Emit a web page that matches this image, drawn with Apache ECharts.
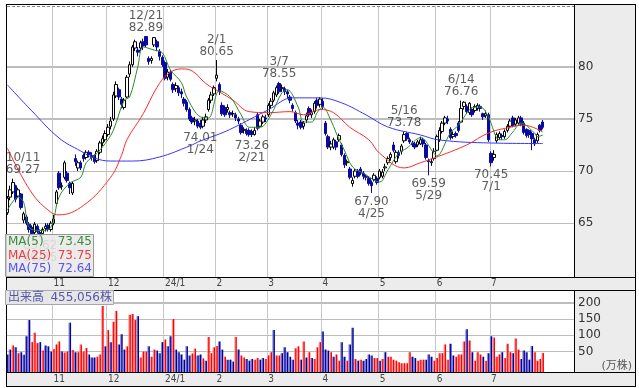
<!DOCTYPE html>
<html><head><meta charset="utf-8">
<script src="https://cdn.jsdelivr.net/npm/echarts@6/dist/echarts.min.js"></script>
<style>
html,body{margin:0;padding:0;background:#fff;}
#wrap{position:relative;width:639px;height:388px;}
.bg{position:absolute;}
#frame{left:6px;top:4px;width:630px;height:383px;background:#ececec;}
#p1{left:6px;top:4px;width:568px;height:273px;background:#fff;}
#p2{left:6px;top:290px;width:568px;height:82px;background:#fff;}
#c{position:absolute;left:0;top:0;width:639px;height:388px;}
</style>
</head><body><div id="wrap"><div class="bg" id="frame"></div><div class="bg" id="p1"></div><div class="bg" id="p2"></div><div id="c"></div></div>
<script>
// ---- trading days (year, month, days) ; last rows are empty future slots
const monthDays = [
  [2023,10,[6,10,11,12,13,16,17,18,19,20,23,24,25,26,27,30,31]],
  [2023,11,[1,2,6,7,8,9,10,13,14,15,16,17,20,21,22,24,27,28,29,30]],
  [2023,12,[1,4,5,6,7,8,11,12,13,14,15,18,19,20,21,22,25,26,27,28,29]],
  [2024,1,[4,5,9,10,11,12,15,16,17,18,19,22,23,24,25,26,29,30,31]],
  [2024,2,[1,2,5,6,7,8,9,13,14,15,16,19,20,21,22,26,27,28,29]],
  [2024,3,[1,4,5,6,7,8,11,12,13,14,15,18,19,21,22,25,26,27,28,29]],
  [2024,4,[1,2,3,4,5,8,9,10,11,12,15,16,17,18,19,22,23,24,25,26,30]],
  [2024,5,[1,2,7,8,9,10,13,14,15,16,17,20,21,22,23,24,27,28,29,30,31]],
  [2024,6,[3,4,5,6,7,10,11,12,13,14,17,18,19,20,21,24,25,26,27,28]],
  [2024,7,[1,2,3,4,5,8,9,10,11,12,16,17,18,19,22,23,24,25,26,29,30,31]],
  [2024,8,[1,2,5,6,7,8,9,13,14]]
];
const monthLabels = ['11','12','24/1','2','3','4','5','6','7'];
const priceTicks = [65,70,75,80];
const volumeTicks = [50,100,150,200];

const opens = [
66.0,67.5,68.0,68.6,67.6,67.8,65.3,65.6,64.9,64.6,
64.1,64.7,64.1,64.0,64.5,64.8,64.4,65.0,66.9,69.8,
68.5,69.4,69.8,68.8,67.9,71.2,70.3,70.8,71.5,71.3,
71.8,71.5,71.5,71.0,71.8,72.7,73.0,73.5,74.3,75.0,
77.2,77.8,76.9,76.1,77.1,79.3,80.2,81.8,81.6,81.8,
82.4,82.9,80.8,80.6,82.1,82.4,81.5,80.9,80.4,79.0,
79.5,78.3,77.9,78.0,77.6,76.9,76.6,75.9,75.1,74.8,
74.8,74.6,74.3,74.9,75.9,76.8,77.4,78.9,78.3,76.3,
76.1,75.9,75.6,75.5,75.4,75.0,74.4,73.9,73.9,73.9,
73.8,73.5,75.4,74.3,74.7,75.1,75.4,76.3,76.8,77.3,
78.4,77.9,77.9,77.6,77.1,76.3,75.6,74.6,74.7,74.3,
74.9,76.0,75.4,75.7,76.8,76.4,76.7,74.6,73.3,72.3,
72.3,72.8,73.0,72.5,71.5,70.8,70.2,68.8,69.5,70.0,
70.2,69.8,69.5,69.3,68.9,69.2,69.3,69.4,69.5,70.3,
70.8,71.3,72.5,70.9,71.8,71.9,72.9,73.6,73.0,72.7,
72.6,72.5,72.6,73.0,72.5,71.0,70.8,71.2,72.0,73.0,
73.8,74.6,75.0,74.0,73.3,73.6,74.6,74.7,76.2,76.2,
75.6,75.9,75.8,76.0,76.2,75.5,75.3,75.4,71.7,71.3,
72.9,73.2,73.4,73.3,73.9,74.3,75.1,74.5,74.6,75.1,
74.6,74.0,73.9,73.6,73.0,72.9,74.4,74.7];
const closes = [
67.4,68.2,68.9,67.3,68.2,66.5,65.9,65.0,64.4,64.0,
64.9,64.2,63.9,64.4,64.7,64.4,65.0,65.4,68.0,68.4,
68.6,70.8,69.1,68.4,68.8,70.9,70.8,70.3,71.2,71.8,
71.6,71.3,70.9,71.9,72.7,73.1,73.6,74.2,74.8,77.3,
78.3,77.1,76.4,76.8,79.0,80.2,81.9,82.4,81.4,82.3,
82.0,82.1,80.5,80.8,82.8,81.9,81.0,80.2,78.9,79.5,
78.8,77.8,78.2,77.5,77.4,76.5,75.9,75.0,74.7,74.9,
74.3,74.2,74.9,75.2,76.8,77.3,78.0,79.2,77.6,75.5,
75.4,76.1,75.4,75.5,75.1,74.8,73.7,74.0,73.6,73.5,
73.5,73.9,74.1,74.8,75.2,75.0,76.3,76.7,77.5,78.0,
77.6,78.0,77.6,77.4,76.8,76.0,74.8,74.4,74.2,74.6,
75.3,75.4,75.6,76.5,76.3,76.9,76.2,73.6,72.3,72.6,
73.0,72.3,73.4,71.6,70.6,70.9,69.4,69.1,70.0,69.5,
69.8,69.5,69.4,68.8,68.6,69.6,68.9,70.0,69.9,70.4,
71.2,71.6,72.0,71.8,71.5,72.4,73.5,73.1,72.8,72.5,
72.3,72.8,73.0,72.6,71.3,70.9,70.9,71.9,73.3,73.9,
74.6,75.1,74.8,73.2,73.5,73.4,73.9,76.0,76.6,75.7,
76.5,75.4,76.2,76.3,76.0,75.2,75.5,73.0,70.8,71.6,
73.5,73.6,73.3,73.8,74.3,74.8,74.4,74.9,75.1,74.5,
73.7,73.4,73.5,73.1,72.6,73.5,73.9,74.2];
const lows = [
65.8,67.2,67.8,67.0,67.4,66.3,65.0,64.8,64.1,63.8,
63.9,64.0,63.62,63.8,64.2,64.2,64.2,64.8,66.8,68.2,
68.2,69.2,68.9,67.8,67.7,70.5,70.0,70.1,70.9,71.1,
71.3,71.0,70.7,70.8,71.6,72.4,72.8,73.3,74.0,74.8,
77.0,76.8,76.0,75.9,77.0,79.0,80.0,81.5,81.0,81.5,
81.6,81.9,80.2,80.3,81.9,81.5,80.6,80.0,78.7,78.7,
78.6,77.5,77.6,77.2,77.0,76.2,75.7,74.8,74.5,74.4,
74.1,74.01,74.1,74.6,75.7,76.5,77.2,78.6,77.3,75.3,
75.2,75.6,75.1,75.2,74.8,74.5,73.5,73.6,73.4,73.3,
73.26,73.4,73.9,74.1,74.5,74.7,75.2,76.0,76.6,77.1,
77.4,77.6,77.3,77.0,76.5,75.7,74.6,74.0,74.0,74.0,
74.6,75.2,75.1,75.5,76.0,76.1,75.9,73.4,72.1,72.0,
72.1,72.0,72.8,71.4,70.3,70.5,69.2,68.5,69.3,69.3,
69.6,69.2,69.1,68.6,67.90,69.0,68.7,69.2,69.3,70.0,
70.6,71.0,71.8,70.7,71.2,71.6,72.7,72.9,72.6,72.3,
72.1,72.3,72.5,72.3,71.1,69.59,70.5,71.0,71.9,72.8,
73.6,74.4,74.5,73.0,73.1,73.2,73.7,74.6,75.9,75.5,
75.4,75.2,75.6,75.8,75.7,74.9,75.1,72.8,70.45,71.0,
72.7,73.0,73.0,73.1,73.7,74.1,74.2,74.3,74.4,74.3,
73.5,73.2,73.2,72.0,72.4,72.7,73.7,74.0];
const highs = [
67.6,68.6,69.27,68.7,68.4,67.9,66.1,65.8,65.1,64.8,
65.1,64.9,64.4,64.6,65.0,65.0,65.2,65.8,68.2,70.0,
68.9,71.0,70.0,69.0,69.0,71.6,71.0,71.0,71.7,72.0,
72.0,71.8,71.6,72.1,72.9,73.4,73.9,74.5,75.2,77.6,
78.6,78.0,77.1,77.0,79.2,80.5,82.1,82.6,81.9,82.5,
82.7,82.89,81.0,81.0,82.85,82.6,81.7,81.1,80.6,79.8,
79.7,78.5,78.5,78.2,77.9,77.1,76.8,76.1,75.3,75.2,
75.0,74.9,75.2,75.5,77.0,77.6,78.2,80.65,78.5,76.6,
76.3,76.4,75.8,75.8,75.6,75.2,74.6,74.2,74.1,74.1,
74.0,74.2,75.6,75.0,75.4,75.4,76.5,77.0,77.7,78.2,
78.55,78.3,78.1,77.8,77.3,76.5,75.8,74.9,74.9,74.8,
75.6,76.2,75.9,76.7,77.0,77.1,77.0,74.8,73.5,72.9,
73.2,73.0,73.6,72.7,71.7,71.1,70.4,69.4,70.2,70.2,
70.4,70.0,69.7,69.5,69.1,69.8,69.5,70.2,70.2,70.7,
71.4,71.8,72.8,72.0,72.0,72.6,73.78,73.75,73.2,72.9,
72.8,73.0,73.3,73.2,72.7,71.2,71.2,72.2,73.5,74.2,
74.8,75.3,75.3,74.2,73.8,73.8,74.8,76.76,76.7,76.4,
76.6,76.1,76.4,76.5,76.4,75.6,75.8,75.6,71.9,72.0,
73.7,73.8,73.6,74.0,74.5,75.0,75.3,75.1,75.3,75.3,
74.8,74.1,74.0,73.8,73.2,73.7,74.5,74.9];

// volume, 万株
const volumes = [
41,56,69,63,45,48,40,97,147,79,
108,76,79,53,69,66,50,58,72,81,
50,47,50,139,55,48,48,72,50,61,
41,32,32,34,41,190,66,116,79,142,
175,72,103,56,66,163,166,147,159,32,
50,50,66,34,56,53,45,79,87,66,
97,150,56,48,41,25,66,38,44,59,
38,41,29,22,95,45,63,67,81,56,
34,25,25,19,95,56,38,32,27,22,
27,25,30,25,30,27,38,48,116,38,
38,45,63,48,34,25,60,66,25,81,
32,48,30,27,63,79,112,56,53,48,
34,41,22,79,34,22,72,123,27,22,
25,22,27,41,38,30,30,22,27,48,
34,34,25,22,17,14,14,14,48,34,
30,22,25,25,25,41,34,22,30,45,
45,72,25,74,38,34,41,41,81,119,
84,48,22,48,41,34,22,45,97,93,
34,41,48,30,74,48,45,90,56,27,
53,48,25,67,48,22,27,45.5];
const volumeDir = ("ddududdddu uududdduuu duududuuuu ddduuududu uddduuuudu " +
  "uuduudddud dudddddduu dduduuuudd uddduduudd duudduuudu " +
  "uddddduudu duduuudddu duudduddud udddduudud uuuuuuuuud " +
  "duuuddduuu uuudduuuud uduuududdu uuduuuduud dddduuuu").replace(/ /g,'');
const lastVolumeShares = 455056;

// moving averages: [day index, value]
const ma5 = [[0,66.25],[4,67.5],[6,67.0],[8,64.6],[12,64.3],[16,64.6],[19,67.5],[23,68.85],[27,69.4],[29,70.8],
  [33,71.7],[37,73.0],[39,73.9],[43,76.8],[45,77.1],[48,80.0],[50,81.9],[54,81.6],[57,81.35],[60,79.7],
  [64,78.5],[66,77.1],[71,75.2],[74,75.1],[78,77.7],[82,77.1],[86,75.4],[89,74.2],[93,74.2],[97,75.4],
  [101,77.5],[103,77.8],[107,76.15],[109,74.7],[112,74.7],[114,75.6],[116,76.15],[119,74.9],[121,73.65],
  [124,72.0],[127,70.4],[131,69.8],[137,68.95],[140,70.1],[144,71.7],[147,72.2],[152,73.2],[157,71.7],
  [158,71.45],[163,73.65],[166,74.4],[171,76.05],[174,76.15],[177,75.2],[181,73.0],[183,73.0],[186,73.75],
  [189,74.6],[194,73.65],[195,73.3],[197,73.45]];
const ma25 = [[0,72.2],[9,67.9],[16,66.05],[19,65.8],[28,66.7],[38,69.4],[42,71.5],[44,73.0],[50,75.5],
  [55,78.0],[59,79.3],[64,79.8],[68,79.6],[73,78.4],[78,77.6],[83,76.8],[89,75.7],[96,75.6],[104,75.7],
  [109,75.4],[115,75.9],[120,75.6],[126,74.2],[133,73.0],[137,71.7],[146,70.3],[152,70.8],[157,71.25],
  [169,72.5],[177,73.65],[185,74.2],[190,74.4],[197,73.75]];
const ma75 = [[0,78.27],[9,75.77],[19,73.17],[27,71.92],[32,71.25],[38,70.96],[46,70.96],[56,71.35],
  [67,72.4],[71,72.88],[78,73.56],[83,74.13],[96,75.87],[105,77.02],[115,77.02],[123,76.54],[132,75.38],
  [140,74.23],[152,73.46],[159,72.98],[178,72.69],[197,72.64]];
const maLatest = [73.45, 73.75, 72.64];

const highMarks = [['2023/10/11',69.27],['2023/12/21',82.89],['2024/2/1',80.65],['2024/3/7',78.55],['2024/5/16',73.78],['2024/6/14',76.76]];
const lowMarks = [['2023/10/25',63.62],['2024/1/24',74.01],['2024/2/21',73.26],['2024/4/25',67.90],['2024/5/29',69.59],['2024/7/1',70.45]];

// ---- build
const categories = [];
monthDays.forEach(([y,m,ds]) => ds.forEach(d => categories.push(y+'/'+m+'/'+d)));
const nData = closes.length;
const monthOf = c => c.split('/')[1];
const monthStarts = [];
categories.forEach((c,i)=>{ if(i>0 && i<nData && monthOf(c)!==monthOf(categories[i-1])) monthStarts.push(i); });
const isStart = i => monthStarts.indexOf(i) >= 0;
const mdText = c => { const p=c.split('/'); return p[1]+'/'+p[2]; };

const candleData = opens.map((o,i)=>[o, closes[i], lows[i], highs[i]]);
const volData = volumes.map((v,i)=>[i, v, volumeDir[i]==='u'?1:0]);

const LABEL_FONT = "'DejaVu Sans', 'Noto Sans CJK JP', sans-serif";
const highData = highMarks.map(([d,v])=>{
  const idx = categories.indexOf(d);
  const item = {value:[idx,v], name: mdText(d)+'\n'+v.toFixed(2)};
  if (idx < 6) item.label = {align:'left', offset:[-7,0]};
  return item;
});
const lowData = lowMarks.map(([d,v])=>{
  const idx = categories.indexOf(d);
  return {value:[idx,v], name: v.toFixed(2)+'\n'+mdText(d)};
});

const GRID_COLOR = '#bdbdbd';
const xLabelFont = "'Liberation Sans Narrow', 'DejaVu Sans Condensed', 'Liberation Sans', sans-serif";
function xAxisCfg(gi, margin){
  return {
    type:'category', gridIndex:gi, data:categories, boundaryGap:true,
    axisLine:{show:false}, axisTick:{show:false},
    axisLabel:{interval:(i)=>isStart(i), formatter:(v,i)=>monthLabels[monthStarts.indexOf(i)]||'',
      align:'left', margin:margin, fontSize:10, color:'#444', fontFamily:xLabelFont},
    splitLine:{show:true, interval:(i)=>isStart(i), lineStyle:{color:'#c8c8c8', width:1}}
  };
}
function yAxisCfg(gi, min, max, ticks){
  return {
    type:'value', gridIndex:gi, position:'right', min:min, max:max,
    axisLine:{show:false}, axisTick:{show:false, customValues:ticks},
    axisLabel:{customValues:ticks, margin:4, fontSize:12, color:'#333', fontFamily:LABEL_FONT},
    splitLine:{show:true, lineStyle:{color:GRID_COLOR, width:1}}
  };
}

const G = [];
const rect = (x,y,w,h,fill,z)=>G.push({type:'rect', silent:true, z:z, shape:{x:x,y:y,width:w,height:h}, style:{fill:fill}});
G.push({type:'line', silent:true, z:5, shape:{x1:7,y1:6.5,x2:574,y2:6.5}, style:{stroke:'#888', lineWidth:1, lineDash:[3,2]}});
[[4],[277],[290],[372],[386]].forEach(([y])=>rect(6,y,630,1,'#000',60));
rect(6,4,1,383,'#000',60);
rect(635,4,1,383,'#000',60);
rect(574,4,1,273,'#000',60);
rect(574,290,1,82,'#000',60);
// MA legend box
G.push({type:'rect', silent:true, z:100, shape:{x:5.5,y:234.5,width:88,height:42}, style:{fill:'rgba(232,232,232,0.88)', stroke:'#9a9a9a', lineWidth:1}});
const maNames = ['MA(5)','MA(25)','MA(75)'];
const maText = ['#3c8c3c','#ee3b3b','#5555ee'];
const maRowY = [241.5,255.5,269];
maNames.forEach((n,k)=>{
  G.push({type:'text', silent:true, z:101, x:8, y:maRowY[k], style:{text:n, fill:maText[k], font:"12px "+LABEL_FONT, textAlign:'left', textVerticalAlign:'middle'}});
  G.push({type:'text', silent:true, z:101, x:92, y:maRowY[k], style:{text:maLatest[k].toFixed(2), fill:maText[k], font:"12px "+LABEL_FONT, textAlign:'right', textVerticalAlign:'middle'}});
});
// volume title box
G.push({type:'rect', silent:true, z:100, shape:{x:5.5,y:290.5,width:108,height:14}, style:{fill:'#e6e6e6', stroke:'#a8a8a8', lineWidth:1}});
G.push({type:'text', silent:true, z:101, x:8, y:298, style:{text:'出来高', fill:'#5656a8', font:"12px "+LABEL_FONT, textAlign:'left', textVerticalAlign:'middle'}});
G.push({type:'text', silent:true, z:101, x:112, y:298, style:{text:lastVolumeShares.toLocaleString('en-US')+'株', fill:'#5656a8', font:"12px "+LABEL_FONT, textAlign:'right', textVerticalAlign:'middle'}});
G.push({type:'text', silent:true, z:101, x:632, y:366, style:{text:'(万株)', fill:'#555', font:"11px "+LABEL_FONT, textAlign:'right', textVerticalAlign:'middle'}});

const markLabel = {show:true, formatter:'{b}', fontSize:12, lineHeight:12, color:'#333', fontFamily:LABEL_FONT, distance:2};

const option = {
  animation:false,
  backgroundColor:'transparent',
  textStyle:{fontFamily:LABEL_FONT},
  grid:[{left:6, top:6, width:568, height:271}, {left:6, top:291, width:568, height:81}],
  xAxis:[xAxisCfg(0,1), xAxisCfg(1,2)],
  yAxis:[yAxisCfg(0,59.84,85.83,priceTicks), yAxisCfg(1,-13,236.5,volumeTicks)],
  series:[
    {type:'candlestick', xAxisIndex:0, yAxisIndex:0, data:candleData, barWidth:3, z:3,
      itemStyle:{color:'#ffffff', color0:'#0a0aa0', borderColor:'#000000', borderColor0:'#0a0aa0', borderWidth:1}},
    {type:'line', name:'MA75', xAxisIndex:0, yAxisIndex:0, data:ma75, smooth:0.4, showSymbol:false, z:4, lineStyle:{width:1, color:'#3535ff'}},
    {type:'line', name:'MA25', xAxisIndex:0, yAxisIndex:0, data:ma25, smooth:0.4, showSymbol:false, z:4, lineStyle:{width:1, color:'#ff2a2a'}},
    {type:'line', name:'MA5', xAxisIndex:0, yAxisIndex:0, data:ma5, smooth:0.35, showSymbol:false, z:4, lineStyle:{width:1, color:'#2a8a2a'}},
    {type:'scatter', xAxisIndex:0, yAxisIndex:0, data:highData, symbolSize:1, itemStyle:{color:'rgba(0,0,0,0)'}, z:6,
      label:Object.assign({position:'top'}, markLabel)},
    {type:'scatter', xAxisIndex:0, yAxisIndex:0, data:lowData, symbolSize:1, itemStyle:{color:'rgba(0,0,0,0)'}, z:6,
      label:Object.assign({position:'bottom'}, markLabel)},
    {type:'custom', xAxisIndex:1, yAxisIndex:1, data:volData, encode:{x:0, y:1}, z:3,
      renderItem:(params, api)=>{
        const i = api.value(0), v = api.value(1), up = api.value(2) === 1;
        const pt = api.coord([i, v]);
        const cs = params.coordSys;
        const bottom = cs.y + cs.height;
        const xl = pt[0] - 1.3;
        return {type:'group', children:[
          {type:'rect', shape:{x:xl, y:pt[1], width:1, height:bottom-pt[1]}, style:{fill: up?'#ff9a9a':'#8080d0'}},
          {type:'rect', shape:{x:xl+1, y:pt[1], width:1.5, height:bottom-pt[1]}, style:{fill: up?'#ff0000':'#0000a0'}}
        ]};
      }}
  ],
  graphic:{elements:G}
};
const chart = echarts.init(document.getElementById('c'), null, {renderer:'canvas'});
chart.setOption(option);

// horizontal grid lines: positions taken from the value axes themselves
function addGridLines(){
  const lines = [];
  [[0,priceTicks],[1,volumeTicks]].forEach(([ai,ticks])=>{
    ticks.forEach(t=>{
      let py = chart.convertToPixel({yAxisIndex:ai}, t);
      if (Array.isArray(py)) py = py[1];
      py = Number(py);
      if (!isFinite(py)) return;
      const y = Math.round(py - 0.5);
      lines.push({type:'rect', silent:true, z:2, shape:{x:7, y:y, width:567, height:1}, style:{fill:GRID_COLOR}});
    });
  });
  chart.setOption({graphic:{elements:G.concat(lines)}});
}
addGridLines();
</script></body></html>
